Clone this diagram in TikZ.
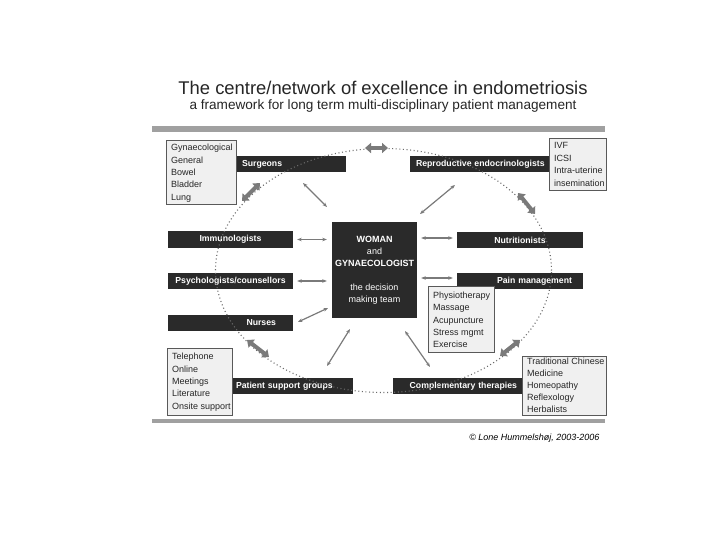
\documentclass[tikz,border=0pt]{standalone}
\usepackage{fontspec}
\setmainfont{Liberation Sans}
\usetikzlibrary{arrows.meta}
\definecolor{barc}{HTML}{2A2A2A}
\definecolor{listc}{HTML}{F0F0F0}
\definecolor{rulec}{HTML}{A0A0A0}
\definecolor{arrc}{HTML}{7A7A7A}
\definecolor{dotc}{HTML}{6A6A6A}
\tikzset{
  bar/.style={fill=barc, text=white, font=\bfseries\fontsize{8.7}{9}\selectfont,
    minimum height=16pt, inner xsep=0pt, inner ysep=0pt},
  listbox/.style={fill=listc, draw=gray!70!black, line width=0.6pt, inner sep=0pt,
    anchor=north west},
  listtext/.style={font=\fontsize{9}{12.4}\selectfont, align=left, inner sep=0pt,
    anchor=north west, text=black!85},
  thickarr/.style={arrc, line width=4pt,
    {Triangle[length=6pt,width=10pt]}-{Triangle[length=6pt,width=10pt]}},
  thinarr/.style={arrc, line width=1.2pt,
    {Stealth[length=4.5pt,width=3.5pt]}-{Stealth[length=4.5pt,width=3.5pt]}},
  rulebar/.style={fill=rulec, draw=none},
  ring/.style={dotc, line width=1.1pt, dash pattern=on 1pt off 2.6pt}
}
\begin{document}
\begin{tikzpicture}[x=1pt,y=-1pt]
\path[use as bounding box, fill=white] (0,0) rectangle (720,540);

% titles
\node[font=\fontsize{18.4}{20}\selectfont, text=black!85] (title) at (383,88) {The centre/network of excellence in endometriosis};
\node[font=\fontsize{13.6}{15}\selectfont, text=black!85] (subtitle) at (383,106) {a framework for long term multi-disciplinary patient management};
\fill[rulebar] (152,126) rectangle (605,132);
\fill[rulebar] (152,419) rectangle (605,423);
\node[anchor=east, font=\itshape\fontsize{9}{10}\selectfont] (copy) at (603,438) {© Lone Hummelshøj, 2003-2006};

% bars
\node[bar, minimum width=112pt, text width=96pt, align=left] (surg) at (290,164) {Surgeons};
\node[bar, minimum width=139pt, text width=127pt, align=left] (repro) at (479.5,164) {\mbox{Reproductive endocrinologists}};
\node[bar, minimum width=125pt, text width=115pt, align=center] (immu) at (230.5,239.5) {Immunologists};
\node[bar, minimum width=125pt, text width=115pt, align=center] (psych) at (230.5,281) {Psychologists/counsellors};
\node[bar, minimum width=125pt, text width=91pt, align=right] (nurse) at (230.5,323) {Nurses};
\node[bar, minimum width=126pt, text width=116pt, align=center] (nutri) at (520,240) {Nutritionists};
\node[bar, minimum width=126pt, text width=104pt, align=right] (pain) at (520,281) {Pain management};
\node[bar, minimum width=121pt, text width=113pt, align=left] (psg) at (292.5,386) {Patient support groups};
\node[bar, minimum width=129pt, text width=119pt, align=right] (comp) at (457.5,386) {Complementary therapies};

% centre
\node[fill=barc, text=white, minimum width=85pt, minimum height=96pt, align=center,
  font=\fontsize{9}{12}\selectfont, inner sep=0pt] (ctr) at (374.5,270)
  {\textbf{WOMAN}\\and\\\textbf{GYNAECOLOGIST}\\[12pt]the decision\\making team};

% dotted ring
\draw[ring] (383.5,270.5) ellipse [x radius=168pt, y radius=122pt];

% lists
\node[listbox, minimum width=70pt, minimum height=64pt] (gyn) at (166,140) {};
\node[listtext] (gynt) at ([xshift=5pt,yshift=-4pt]gyn.north west)
  {Gynaecological\\General\\Bowel\\Bladder\\Lung};
\node[listbox, minimum width=57pt, minimum height=52pt] (ivf) at (549,138) {};
\node[listtext] (ivft) at ([xshift=5pt,yshift=-4.5pt]ivf.north west)
  {IVF\\ICSI\\Intra-uterine\\insemination};
\node[listbox, minimum width=66pt, minimum height=66pt] (physio) at (428,286) {};
\node[listtext] (physiot) at ([xshift=5pt,yshift=-5.5pt]physio.north west)
  {Physiotherapy\\Massage\\Acupuncture\\Stress mgmt\\Exercise};
\node[listbox, minimum width=65pt, minimum height=67pt] (tel) at (167,348) {};
\node[listtext] (telt) at ([xshift=5pt,yshift=-5pt]tel.north west)
  {Telephone\\Online\\Meetings\\Literature\\Onsite support};
\node[listbox, minimum width=84pt, minimum height=59pt] (tcm) at (522,356) {};
\node[listtext, font=\fontsize{9}{12}\selectfont] (tcmt) at ([xshift=5pt,yshift=-2pt]tcm.north west)
  {Traditional Chinese\\Medicine\\Homeopathy\\Reflexology\\Herbalists};

% thick arrows on the ring
\coordinate (ta1) at (365,148); \coordinate (tb1) at (388,148);
\coordinate (ta2) at (242,201); \coordinate (tb2) at (260,183);
\coordinate (ta3) at (518,193); \coordinate (tb3) at (535,214);
\coordinate (ta4) at (247,340); \coordinate (tb4) at (269,357);
\coordinate (ta5) at (500,356); \coordinate (tb5) at (520,340);
\draw[thickarr] (ta1) -- (tb1);
\draw[thickarr] (ta2) -- (tb2);
\draw[thickarr] (ta3) -- (tb3);
\draw[thickarr] (ta4) -- (tb4);
\draw[thickarr] (ta5) -- (tb5);

% thin arrows to the centre
\draw[thinarr, shorten <=4pt, shorten >=5pt] (immu.east) -- (immu.east -| ctr.west);
\draw[thinarr, shorten <=4pt, shorten >=5pt] (psych.east) -- (psych.east -| ctr.west);
\draw[thinarr, shorten <=4pt, shorten >=4pt] (nutri.west |- 0,238) -- (ctr.east |- 0,238);
\draw[thinarr, shorten <=4pt, shorten >=4pt] (pain.west |- 0,278) -- (ctr.east |- 0,278);
\coordinate (n1) at (298,322); \coordinate (n2) at (328,308);
\draw[thinarr] (n1) -- (n2);
\coordinate (s1) at (303,183); \coordinate (s2) at (327,207);
\draw[thinarr] (s1) -- (s2);
\coordinate (r1) at (455,185); \coordinate (r2) at (420,214);
\draw[thinarr] (r1) -- (r2);
\coordinate (p1) at (350,329); \coordinate (p2) at (327,366);
\draw[thinarr] (p1) -- (p2);
\coordinate (c1) at (405,331); \coordinate (c2) at (430,367);
\draw[thinarr] (c1) -- (c2);
\end{tikzpicture}
\end{document}
